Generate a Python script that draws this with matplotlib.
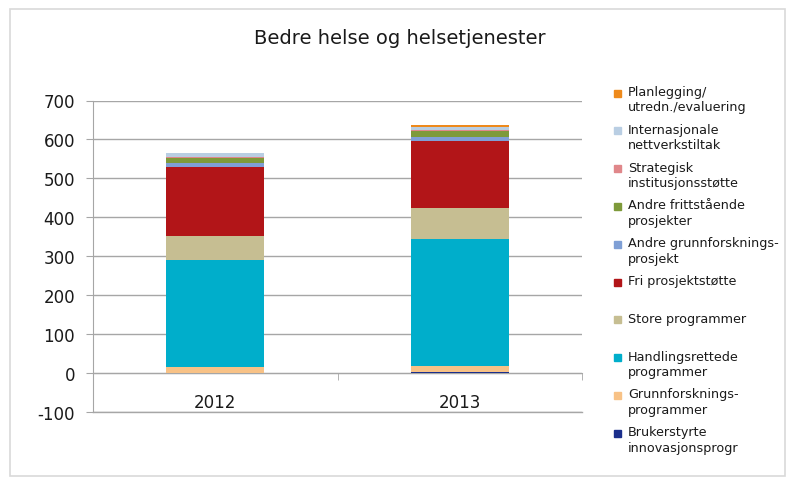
import numpy as np
import matplotlib
matplotlib.use("Agg")
import matplotlib.pyplot as plt
from matplotlib.patches import Rectangle

# --------- data ---------
years = ["2012", "2013"]

# stacking order, bottom -> top
series = [
    "Brukerstyrte\ninnovasjonsprogr",
    "Grunnforsknings-\nprogrammer",
    "Handlingsrettede\nprogrammer",
    "Store programmer",
    "Fri prosjektstøtte",
    "Andre grunnforsknings-\nprosjekt",
    "Andre frittstående\nprosjekter",
    "Strategisk\ninstitusjonsstøtte",
    "Internasjonale\nnettverkstiltak",
    "Planlegging/\nutredn./evaluering",
]
bruker = [1, 4]
grunnprog = [15, 13]
handling = [274, 327]
store = [61, 79]
fri = [179, 174]
andre_grunn = [9, 9]
andre_fritt = [13, 15]
strategisk = [3, 3]
internasj = [10, 9]
planlegging = [1, 5]
values = [bruker, grunnprog, handling, store, fri, andre_grunn,
          andre_fritt, strategisk, internasj, planlegging]

colors = ["#1B2F8C", "#F8C286", "#00AECB", "#C6BE92", "#B21518",
          "#7F9FD5", "#7E9A3A", "#E0878A", "#B9CEE3", "#EE8A1C"]

plt.rcParams["font.family"] = ["DejaVu Sans"]
plt.rcParams["axes.unicode_minus"] = False

W, H = 795, 481
fig = plt.figure(figsize=(W / 100, H / 100), dpi=100)

# outer frame
fig.patches.append(Rectangle((10 / W, 1 - 477 / H), 775 / W, 467 / H,
                             transform=fig.transFigure, fill=False,
                             edgecolor="#D9D9D9", lw=1.2))

ax = fig.add_axes([93 / W, 1 - 413 / H, (582 - 93) / W, (413 - 101.5) / H])

x = np.arange(len(years))
bottom = np.zeros(len(years))
for vals, c in zip(values, colors):
    ax.bar(x, vals, width=0.4, bottom=bottom, color=c, zorder=3)
    bottom += np.array(vals)

ax.set_xlim(-0.5, 1.5)
ax.set_ylim(-100, 700)
ax.set_yticks(np.arange(-100, 701, 100))
ax.yaxis.grid(True, color="#A6A6A6", lw=1, zorder=0)
ax.axhline(-100, color="#A6A6A6", lw=1, clip_on=False, zorder=1)
ax.set_axisbelow(True)

for s in ["top", "right"]:
    ax.spines[s].set_visible(False)
ax.spines["left"].set_color("#A6A6A6")
ax.spines["bottom"].set_color("#A6A6A6")
ax.spines["bottom"].set_position(("data", 0))

ax.set_xticks(x)
ax.set_xticklabels(years)
ax.set_xticks([-0.5, 0.5, 1.5], minor=True)
ax.tick_params(axis="x", which="major", length=0, pad=14, labelsize=12,
               labelcolor="#1A1A1A")
ax.tick_params(axis="x", which="minor", length=5, color="#A6A6A6")
ax.tick_params(axis="y", length=5, color="#A6A6A6", pad=8, labelsize=12,
               labelcolor="#1A1A1A")

fig.text(400 / W, 1 - 38 / H, "Bedre helse og helsetjenester",
         ha="center", va="center", fontsize=14, color="#1A1A1A")

# legend, top entry = last series
for i, (lab, c) in enumerate(zip(series[::-1], colors[::-1])):
    yc = 94 + i * 37.8
    fig.patches.append(Rectangle((614 / W, 1 - (yc + 3.5) / H), 7 / W, 7 / H,
                                 transform=fig.transFigure, color=c))
    fig.text(628 / W, 1 - (yc - 8) / H, lab, ha="left", va="top",
             fontsize=9.2, color="#1A1A1A", linespacing=1.25)

fig.savefig("out.png", dpi=100)
